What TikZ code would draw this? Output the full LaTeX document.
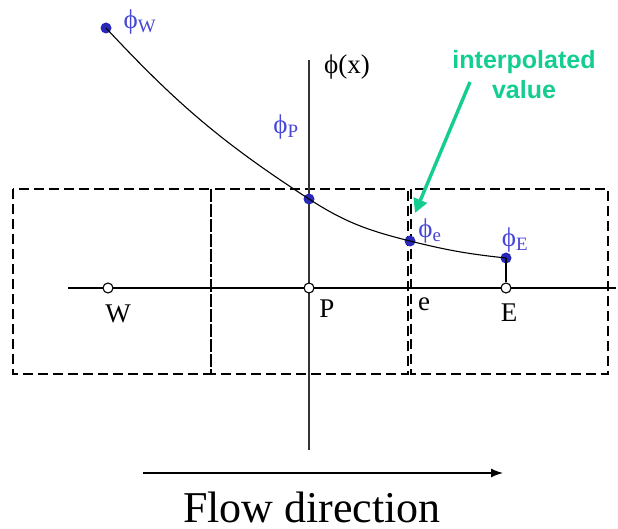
\documentclass[tikz,border=0pt]{standalone}
\usepackage{fontspec}
\setmainfont{Liberation Serif}
\setsansfont{Liberation Sans}
\usetikzlibrary{arrows.meta, positioning}
\definecolor{phiblue}{RGB}{70,70,215}
\definecolor{dotblue}{RGB}{40,40,185}
\definecolor{interpgreen}{RGB}{20,205,145}
\newcommand{\phisym}{ϕ}

\begin{document}
\begin{tikzpicture}[x=1pt, y=-1pt,
        cell/.style={draw, dashed, dash pattern=on 10pt off 5pt, line width=1.3pt},
        axis/.style={line width=1.4pt},
        node point/.style={circle, draw, fill=white, line width=1.1pt, inner sep=0pt, minimum size=10pt},
        value point/.style={circle, fill=dotblue, inner sep=0pt, minimum size=11pt},
        phi label/.style={text=phiblue, font=\fontsize{27}{30}\selectfont, inner sep=0pt},
        pos label/.style={font=\fontsize{27}{30}\selectfont, inner sep=0pt},
    ]
        \useasboundingbox (0,0) rectangle (618,529);
        
        % Control volumes (dashed)
        \draw[cell] (13,189) rectangle (211,374);
        \draw[cell] (211,189) rectangle (408,374);
        \draw[cell] (411,189) rectangle (608,374);
        
        % Axes
        \coordinate (xstart) at (68,288);
        \coordinate (xend) at (616,288);
        \coordinate (ystart) at (309,450);
        \coordinate (yend) at (309,60);
        \draw[axis] (xstart) -- (xend);
        \draw[axis, black!80] (ystart) -- (yend);
        \node[pos label] (phix) at (347,67) {\phisym(x)};
        
        % Grid points
        \node[node point] (W) at (108,288) {};
        \node[node point] (P) at (309,288) {};
        \node[node point] (E) at (506,288) {};
        \node[pos label] (Wlab) at (118,314) {W};
        \node[pos label] (Plab) at (327,309) {P};
        \node[pos label] (elab) at (424,304) {e};
        \node[pos label] (Elab) at (509,313) {E};
        
        % Values of phi
        \node[value point] (phiW) at (106,28) {};
        \node[value point] (phiP) at (309,199) {};
        \node[value point] (phie) at (410,241) {};
        \node[value point] (phiE) at (506,258) {};
        \draw[line width=1.1pt] (phiW.center) to[out=-47, in=147] (phiP.center)
            to[out=-33, in=166] (phie.center) to[out=-14, in=174] (phiE.center);
        \draw[line width=1.4pt] (phiE.center) -- (E);
        \node[phi label] (phiWlab) at (140,22) {\phisym\textsubscript{W}};
        \node[phi label] (phiPlab) at (286,127) {\phisym\textsubscript{P}};
        \node[phi label] (phielab) at (430,231) {\phisym\textsubscript{e}};
        \node[phi label] (phiElab) at (515,240) {\phisym\textsubscript{E}};
        
        % Interpolated value
        \node[text=interpgreen, font=\sffamily\bfseries\fontsize{25}{30}\selectfont, align=center] (interp) at (524,75) {interpolated\\value};
        \coordinate (interpfrom) at (470,82);
        \coordinate (interpto) at (415,213);
        \draw[-{Triangle[length=14pt,width=14pt]}, line width=3.4pt, interpgreen] (interpfrom) -- (interpto);
        
        % Flow direction
        \coordinate (flowstart) at (143,473);
        \coordinate (flowend) at (503,473);
        \draw[-{Latex[length=12pt,width=9pt]}, line width=1.3pt] (flowstart) -- (flowend);
        \node[font=\fontsize{44}{50}\selectfont, inner sep=0pt, anchor=base] (flow) at (312,522) {Flow direction};
    \end{tikzpicture}
\end{document}
